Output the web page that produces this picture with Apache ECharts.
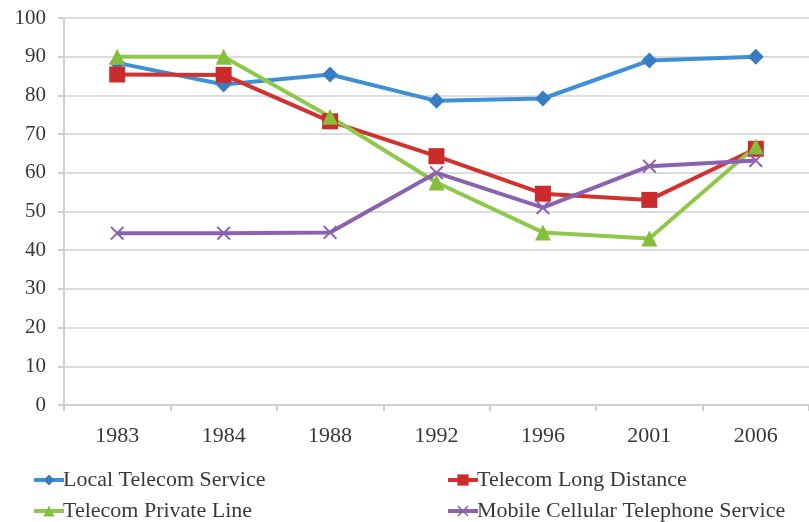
<!DOCTYPE html>
<html>
<head>
<meta charset="utf-8">
<script src="https://cdn.jsdelivr.net/npm/echarts@6/dist/echarts.min.js"></script>
<style>
  html, body { margin: 0; padding: 0; background: #fff; }
  #chart { width: 809px; height: 522px; }
</style>
</head>
<body>
<div id="chart"></div>
<script>
const years = ['1983', '1984', '1988', '1992', '1996', '2001', '2006'];
const yTicks = [0, 10, 20, 30, 40, 50, 60, 70, 80, 90, 100];

const localTelecom = [88.4, 82.8, 85.4, 78.6, 79.2, 89.0, 90.0];
const longDistance = [85.4, 85.3, 73.3, 64.3, 54.6, 53.0, 66.2];
const privateLine = [90.0, 90.0, 74.5, 57.5, 44.6, 43.0, 66.8];
const mobileCellular = [44.4, 44.4, 44.6, 60.0, 51.0, 61.7, 63.2];

const seriesNames = [
  'Local Telecom Service',
  'Telecom Long Distance',
  'Telecom Private Line',
  'Mobile Cellular Telephone Service'
];

const chart = echarts.init(document.getElementById('chart'));

const xSymbol = 'path://M1,0 L5,4 L9,0 L10,1 L6,5 L10,9 L9,10 L5,6 L1,10 L0,9 L4,5 L0,1 Z';
const font = '"Liberation Serif", "DejaVu Serif", serif';

function makeSeries(name, data, color, markerColor, symbol, size) {
  return {
    name: name,
    type: 'line',
    data: data,
    symbol: symbol,
    symbolSize: size,
    lineStyle: { color: color, width: 4 },
    itemStyle: { color: markerColor, borderColor: markerColor, borderWidth: 0 },
    z: 2
  };
}

// one legend per entry so the two columns line up like the original
function makeLegend(name, left, top) {
  return {
    left: left,
    top: top,
    padding: 0,
    itemWidth: 30,
    itemHeight: 14,
    lineStyle: { width: 4 },
    data: [name],
    textStyle: { fontFamily: font, fontSize: 22, color: '#383838', padding: [0, 0, 0, -6] }
  };
}

const option = {
  backgroundColor: '#fff',
  animation: false,
  textStyle: { fontFamily: font },
  grid: {
    left: 64,
    top: 18,
    width: 756,
    bottom: 117
  },
  legend: [
    makeLegend(seriesNames[0], 32, 469),
    makeLegend(seriesNames[2], 32, 500),
    makeLegend(seriesNames[1], 446, 469),
    makeLegend(seriesNames[3], 446, 500)
  ],
  xAxis: {
    type: 'category',
    data: years,
    boundaryGap: true,
    axisLine: { lineStyle: { color: '#cfcfcf', width: 2 } },
    axisTick: { show: true, length: 6, lineStyle: { color: '#cfcfcf', width: 2 } },
    axisLabel: { color: '#383838', fontSize: 22, margin: 20, fontFamily: font }
  },
  yAxis: {
    type: 'value',
    min: yTicks[0],
    max: yTicks[yTicks.length - 1],
    interval: 10,
    axisLine: { show: true, lineStyle: { color: '#cfcfcf', width: 2 } },
    axisTick: { show: true, length: 6, lineStyle: { color: '#cfcfcf', width: 2 } },
    axisLabel: { color: '#383838', fontSize: 21, margin: 18, fontFamily: font },
    splitLine: { lineStyle: { color: '#dcdcdc', width: 2 } }
  },
  series: [
    makeSeries(seriesNames[0], localTelecom, '#3e8fd6', '#3a7cc4', 'diamond', 16),
    makeSeries(seriesNames[1], longDistance, '#d2322e', '#cc2b2b', 'rect', 16),
    makeSeries(seriesNames[2], privateLine, '#90c84c', '#86be3c', 'triangle', 16),
    makeSeries(seriesNames[3], mobileCellular, '#8a62ae', '#8a62ae', xSymbol, 14)
  ]
};

chart.setOption(option);
</script>
</body>
</html>
